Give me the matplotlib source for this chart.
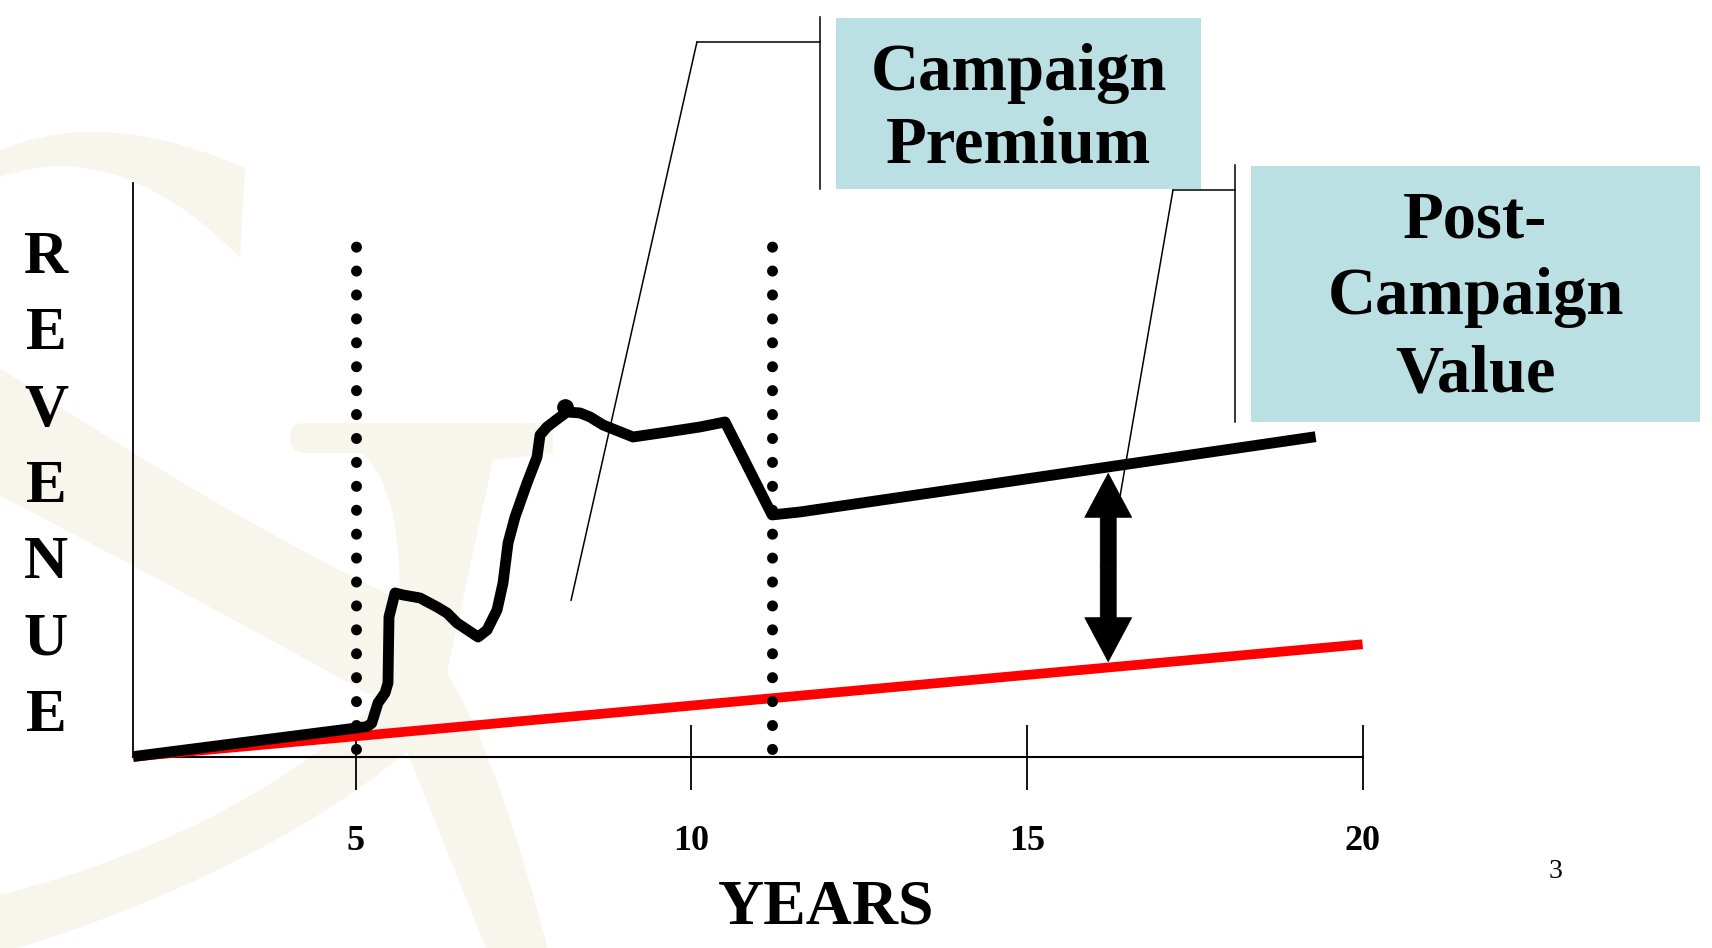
import matplotlib.pyplot as plt
from matplotlib.path import Path
from matplotlib.patches import PathPatch, Rectangle, ConnectionPatch

# baseline (no campaign) revenue
base_x = [1.683, 20.0]
base_y = [0.0, 19.6]

# revenue with campaign
rev_x = [1.683, 5.162, 5.236, 5.330, 5.435, 5.479, 5.494, 5.584, 5.703, 5.956,
         6.210, 6.359, 6.508, 6.821, 6.955, 7.104, 7.193, 7.268, 7.372, 7.551,
         7.700, 7.745, 7.849, 8.043, 8.147, 8.341, 8.490, 8.684, 9.130, 9.637,
         10.129, 10.501, 11.202, 11.619, 19.30]
rev_y = [0.0, 5.22, 5.81, 9.35, 11.10, 12.84, 24.36, 28.55, 28.20, 27.68,
         26.10, 25.05, 23.31, 20.86, 22.09, 25.58, 30.29, 37.27, 41.81, 47.74,
         52.27, 56.11, 57.51, 59.25, 60.12, 59.95, 59.25, 57.85, 55.76, 56.63,
         57.51, 58.38, 42.16, 42.68, 55.81]
peak_x = [8.116]
peak_y = [61.0]

# campaign start / end markers
campaign_x = [5.0, 11.2]
dots_y = [1.27, 89.4]

# post-campaign gap arrow
arrow_x = 16.21
arrow_y = [16.56, 49.42]

ticks = [5, 10, 15, 20]
tick_labels = ['5', '10', '15', '20']

# callout pointer tips (data coords)
premium_tip = (8.206, 27.23)
post_tip = (16.385, 45.34)

W, H = 1712, 948
SERIF = 'Liberation Serif'
TEAL = '#BBE0E3'
WM = '#F7F5EC'

fig = plt.figure(figsize=(W / 100, H / 100), dpi=100)
fig.patch.set_facecolor('white')

# faint logo watermark behind everything (pixel coords)
bg = fig.add_axes([0, 0, 1, 1], zorder=0)
bg.set_xlim(0, W)
bg.set_ylim(H, 0)
bg.axis('off')

M, L, Q, C = Path.MOVETO, Path.LINETO, Path.CURVE3, Path.CLOSEPOLY
top_arc = Path([(-20, 160), (90, 100), (245, 168), (240, 258), (110, 125), (-20, 185), (-20, 160)],
               [M, Q, Q, L, Q, Q, C])
body = Path([(290, 437), (290, 423), (305, 423), (553, 423), (553, 453), (493, 460), (447, 673),
             (500, 760), (550, 958), (490, 958), (407, 752), (250, 880), (-20, 960), (-20, 900),
             (230, 840), (380, 700), (200, 600), (-20, 485), (-20, 355), (230, 520), (400, 600),
             (400, 480), (360, 453), (305, 453), (290, 453), (290, 437), (290, 437)],
            [M, Q, Q, L, L, L, L, Q, Q, L, L, Q, Q, L, Q, Q, Q, Q, L, Q, Q, Q, Q, L, Q, Q, C])
for p in (top_arc, body):
    bg.add_patch(PathPatch(p, fc=WM, ec='none'))

# main chart
ax = fig.add_axes([133.2 / W, 1 - 756.6 / H, (1362.6 - 133.2) / W, (756.6 - 183.4) / H], zorder=1)
ax.patch.set_visible(False)
ax.set_xlim(1.683, 20)
ax.set_ylim(0, 100)
for s in ['top', 'right']:
    ax.spines[s].set_visible(False)
ax.spines['left'].set_linewidth(1.3)
ax.spines['bottom'].set_linewidth(1.5)
ax.set_yticks([])
ax.set_xticks(ticks, tick_labels, fontfamily=SERIF, fontweight='bold', fontsize=26)
ax.tick_params(axis='x', direction='inout', length=46.8, width=1.3, pad=25.5)

ax.plot(base_x, base_y, color='#FF0000', lw=7, solid_capstyle='butt', clip_on=False, zorder=3)
ax.plot(rev_x, rev_y, color='black', lw=7.8, solid_joinstyle='round', solid_capstyle='butt',
        clip_on=False, zorder=4)
ax.plot(peak_x, peak_y, 'o', color='black', ms=11, zorder=4)
for x in campaign_x:
    ax.plot([x, x], dots_y, color='black', lw=7.9, ls=(0, (0.01, 2.17)),
            dash_capstyle='round', clip_on=False, zorder=5)

mid = (arrow_y[0] + arrow_y[1]) / 2
for end in arrow_y:
    ax.arrow(arrow_x, mid, 0, end - mid, width=16 / 67.12, head_width=47 / 67.12,
             head_length=44 / 5.732, length_includes_head=True, fc='black', ec='black',
             lw=0.5, zorder=6, clip_on=False)

# overlay in pixel coordinates for callouts and titles
ov = fig.add_axes([0, 0, 1, 1], zorder=2)
ov.set_xlim(0, W)
ov.set_ylim(H, 0)
ov.axis('off')
ov.patch.set_visible(False)

ov.add_patch(Rectangle((836, 18), 365, 171, fc=TEAL, ec='none'))
ov.plot([820, 820], [17, 189], color='black', lw=1.1)
ov.plot([820, 697], [41.7, 41.7], color='black', lw=1.1)
fig.add_artist(ConnectionPatch(xyA=(697, 41.7), coordsA=ov.transData, xyB=premium_tip,
                               coordsB=ax.transData, color='black', lw=1.1, zorder=3))
ov.text(1018.5, 110, 'Campaign\nPremium', ha='center', va='center', fontsize=48,
        family=SERIF, weight='bold', linespacing=1.25)

ov.add_patch(Rectangle((1251, 166), 449, 256, fc=TEAL, ec='none'))
ov.plot([1235, 1235], [165, 422], color='black', lw=1.1)
ov.plot([1235, 1173], [190, 190], color='black', lw=1.1)
fig.add_artist(ConnectionPatch(xyA=(1173, 190), coordsA=ov.transData, xyB=post_tip,
                               coordsB=ax.transData, color='black', lw=1.1, zorder=3))
ov.text(1475.5, 298, 'Post-\nCampaign\nValue', ha='center', va='center', fontsize=48,
        family=SERIF, weight='bold', linespacing=1.33)

ov.text(46, 487, '\n'.join('REVENUE'), ha='center', va='center', fontsize=44,
        family=SERIF, weight='bold', linespacing=1.475)
ov.text(826, 909, 'YEARS', ha='center', va='center', fontsize=46, family=SERIF, weight='bold')
ov.text(1556, 871, '3', ha='center', va='center', fontsize=20, family=SERIF)

fig.savefig('out.png', dpi=100)
